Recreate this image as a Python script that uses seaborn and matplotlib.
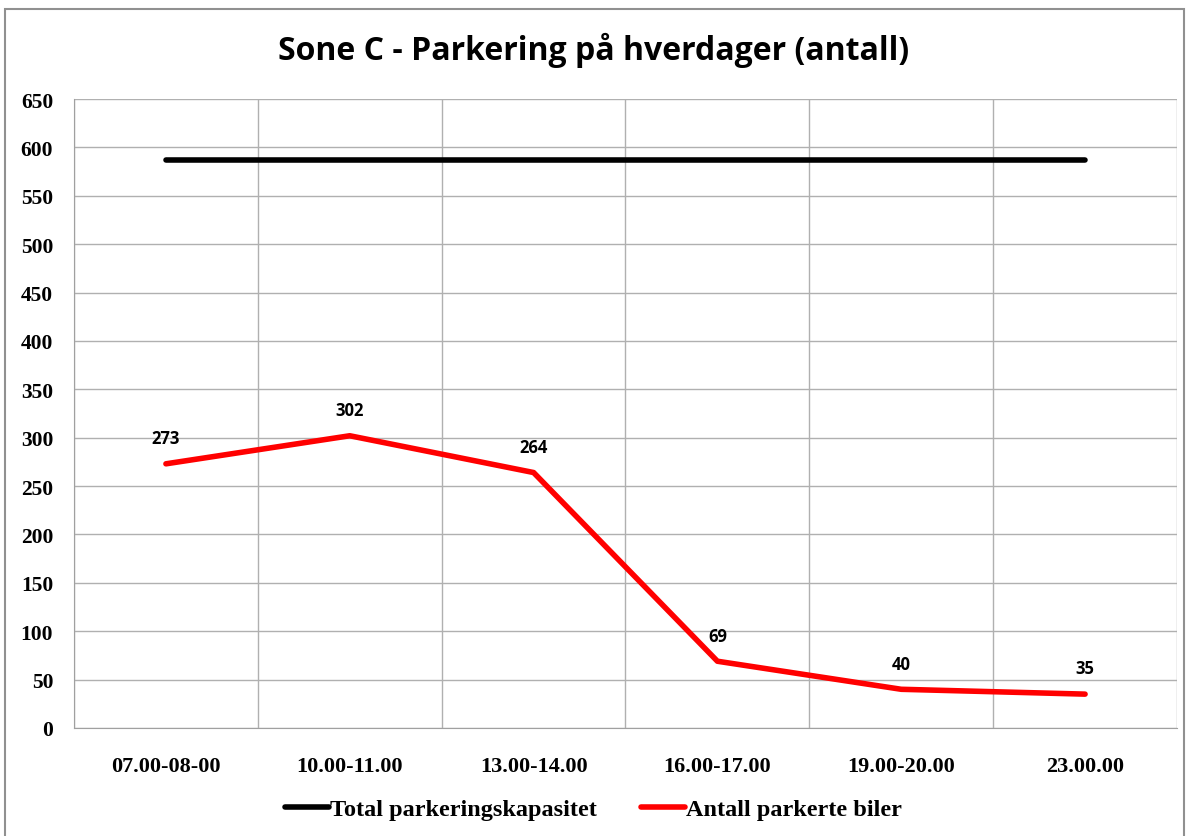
import numpy as np
import pandas as pd
import seaborn as sns
import matplotlib.pyplot as plt
from matplotlib.patches import Rectangle
from matplotlib.lines import Line2D

tider = ['07.00-08-00', '10.00-11.00', '13.00-14.00', '16.00-17.00', '19.00-20.00', '23.00.00']
kapasitet = [587, 587, 587, 587, 587, 587]
parkerte = [273, 302, 264, 69, 40, 35]

df = pd.DataFrame({
    'tid': tider * 2,
    'antall': kapasitet + parkerte,
    'serie': ['Total parkeringskapasitet'] * 6 + ['Antall parkerte biler'] * 6,
})
df['x'] = list(range(len(tider))) * 2

sns.set_style('white')
plt.rcParams['font.family'] = ['Liberation Serif', 'DejaVu Serif']
plt.rcParams['text.color'] = 'black'
plt.rcParams['xtick.color'] = 'black'
plt.rcParams['ytick.color'] = 'black'

fig = plt.figure(figsize=(11.87, 8.37), dpi=100)
ax = fig.add_axes([74 / 1187, 1 - 729 / 837, (1177 - 74) / 1187, (729 - 100) / 837])

sns.lineplot(data=df, x='x', y='antall', hue='serie',
             palette={'Total parkeringskapasitet': 'black', 'Antall parkerte biler': '#ff0000'},
             linewidth=4, ax=ax, legend=False)

ax.set_xlim(-0.5, len(tider) - 0.5)
ax.set_ylim(0, 650)
ax.set_yticks(range(0, 651, 50))
ax.set_xticks(range(len(tider)))
ax.set_xticklabels(tider)
ax.set_xticks(np.arange(-0.5, len(tider), 1), minor=True)
ax.grid(False)
ax.grid(True, axis='y', which='major', color='#b0b0b0', linewidth=1)
ax.grid(True, axis='x', which='minor', color='#b0b0b0', linewidth=1)
ax.set_axisbelow(True)
ax.tick_params(axis='x', which='major', length=0, pad=20, labelsize=16)
ax.tick_params(axis='x', which='minor', length=6, color='#a0a0a0')
ax.tick_params(axis='y', length=6, color='#a0a0a0', labelcolor='black', labelsize=15.5, pad=9)
for lab in ax.get_xticklabels() + ax.get_yticklabels():
    lab.set_fontweight('bold')
ax.set_xlabel('')
ax.set_ylabel('')
for s in ['top', 'right']:
    ax.spines[s].set_visible(False)
ax.spines['left'].set_color('#a0a0a0')
ax.spines['bottom'].set_color('#a0a0a0')

for i, v in enumerate(parkerte):
    ax.annotate(str(v), (i, v), xytext=(0, 12), textcoords='offset points',
                ha='center', va='bottom', fontsize=12, fontweight='bold',
                color='black', family=['Open Sans', 'DejaVu Sans'])

fig.suptitle('Sone C - Parkering på hverdager (antall)', y=1 - 33 / 837, va='top',
             fontsize=23, fontweight='bold', color='black',
             family=['Open Sans', 'DejaVu Sans'])

# legend built by hand from the series
handles = [Line2D([], [], color='black', linewidth=4),
           Line2D([], [], color='#ff0000', linewidth=4)]
fig.legend(handles, ['Total parkeringskapasitet', 'Antall parkerte biler'],
           loc='center', bbox_to_anchor=(0.5, 1 - 810 / 837), ncol=2, frameon=False,
           prop={'weight': 'bold', 'size': 17.5}, handlelength=1.8, handletextpad=0.05,
           columnspacing=1.8, labelcolor='black')

fig.patches.append(Rectangle((5 / 1187, -0.01), 1 - 8 / 1187, 1 - 10 / 837 + 0.01,
                             transform=fig.transFigure, fill=False,
                             edgecolor='#909090', linewidth=1.5))

fig.savefig('out.png', dpi=100)
